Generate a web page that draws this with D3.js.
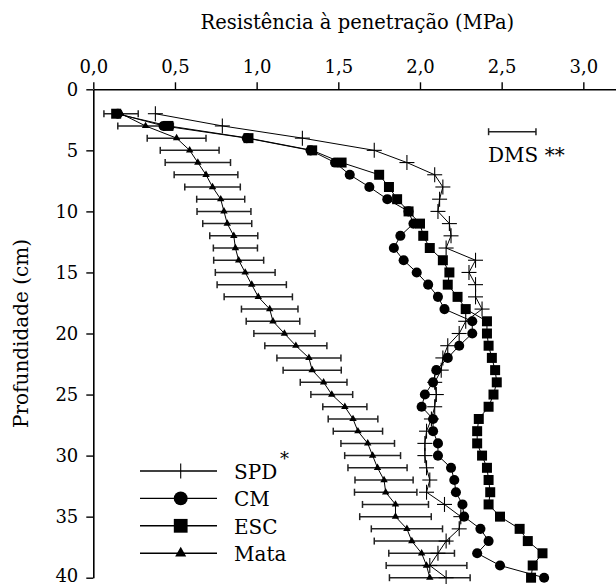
<!DOCTYPE html>
<html>
<head>
<meta charset="utf-8">
<script src="https://cdn.jsdelivr.net/npm/d3@7/dist/d3.min.js"></script>
<style>
    body { margin: 0; background: #fff; }
    text { font-family: 'DejaVu Serif', serif; fill: #000; }
</style>
</head>
<body>
<div id="chart"></div>
<script>
//Datos: profundidad (cm) y resistencia (MPa)
const depths = [2,3,4,5,6,7,8,9,10,11,12,13,14,15,16,17,18,19,20,21,22,23,24,25,26,27,28,29,30,31,32,33,34,35,36,37,38,39,40];
const spd  = [0.38,0.79,1.28,1.72,1.92,2.09,2.14,2.12,2.11,2.18,2.19,2.16,2.34,2.30,2.34,2.34,2.38,2.28,2.24,2.17,2.14,2.13,2.09,2.10,2.09,2.07,2.04,2.03,2.03,2.04,2.06,2.04,2.15,2.25,2.24,2.16,2.11,2.06,2.16];
const cm   = [0.15,0.43,0.94,1.33,1.48,1.57,1.69,1.80,1.93,1.96,1.88,1.84,1.90,1.98,2.05,2.11,2.15,2.32,2.32,2.24,2.17,2.10,2.08,2.03,2.01,2.08,2.08,2.11,2.11,2.19,2.21,2.22,2.26,2.27,2.37,2.42,2.35,2.49,2.76];
const esc  = [0.14,0.46,0.95,1.34,1.52,1.75,1.81,1.86,1.93,2.00,2.02,2.06,2.14,2.18,2.17,2.23,2.28,2.41,2.41,2.42,2.44,2.46,2.47,2.45,2.42,2.36,2.35,2.35,2.38,2.41,2.42,2.43,2.42,2.49,2.61,2.66,2.75,2.69,2.68];
const mata = [0.17,0.32,0.51,0.59,0.64,0.69,0.73,0.78,0.80,0.82,0.86,0.87,0.89,0.93,0.97,1.01,1.08,1.10,1.17,1.24,1.32,1.34,1.41,1.46,1.54,1.59,1.62,1.68,1.71,1.74,1.78,1.79,1.85,1.85,1.92,1.95,2.01,2.04,2.06];
const mataErr = [0.105,0.17,0.18,0.18,0.20,0.195,0.17,0.147,0.165,0.15,0.147,0.135,0.153,0.183,0.212,0.209,0.173,0.164,0.187,0.19,0.196,0.178,0.143,0.128,0.135,0.152,0.151,0.164,0.171,0.181,0.178,0.191,0.202,0.219,0.218,0.23,0.201,0.247,0.247];

const seriesNames = ['SPD', 'CM', 'ESC', 'Mata'];
const xTicks = [0, 0.5, 1.0, 1.5, 2.0, 2.5, 3.0];
const yTicks = [0, 5, 10, 15, 20, 25, 30, 35, 40];

//Diferencia mínima significativa
const dmsStart = 2.42;
const dmsValue = 0.29;

const xTitle = 'Resistência à penetração (MPa)';
const yTitle = 'Profundidade (cm)';

///valores de altura, anchura y márgenes
let margin = {top: 89.3, right: 0, bottom: 6.3, left: 93.3},
    width = 616 - margin.left - margin.right,
    height = 584 - margin.top - margin.bottom;

let svg = d3.select('#chart')
    .append('svg')
        .attr('width', 616)
        .attr('height', 584)
    .append('g')
        .attr('transform', 'translate(' + margin.left + ',' + margin.top + ')');

let x = d3.scaleLinear()
    .domain([0, 3.2])
    .range([0, width]);

let y = d3.scaleLinear()
    .domain([0, 40])
    .range([0, height]);

let fmt = function(d) { return d3.format('.1f')(d).replace('.', ','); };

//Ejes
let xAxis = svg.append('g')
    .call(d3.axisTop(x).tickValues(xTicks).tickFormat(fmt).tickSize(7).tickSizeOuter(0).tickPadding(9));

let yAxis = svg.append('g')
    .call(d3.axisLeft(y).tickValues(yTicks).tickSize(7).tickSizeOuter(0).tickPadding(8));

[xAxis, yAxis].forEach(function(g) {
    g.select('.domain').attr('stroke', '#000').attr('stroke-width', 1.6);
    g.selectAll('.tick line').attr('stroke', '#000').attr('stroke-width', 1.4);
    g.selectAll('.tick text').style('font-family', "'DejaVu Serif', serif").style('font-size', '18px').attr('fill', '#000');
});

//La etiqueta 40 queda pegada al borde inferior
yAxis.selectAll('.tick text').filter(function(d) { return d == 40; }).attr('dy', '0.2em');

//Títulos
svg.append('text')
    .attr('x', 264)
    .attr('y', 29 - margin.top)
    .attr('text-anchor', 'middle')
    .style('font-size', '19.5px')
    .text(xTitle);

svg.append('text')
    .attr('transform', 'translate(' + (28 - margin.left) + ',' + y(20) + ') rotate(-90)')
    .attr('text-anchor', 'middle')
    .style('font-size', '20px')
    .text(yTitle);

//Barras de error de Mata
let errG = svg.append('g')
    .attr('stroke', '#222')
    .attr('stroke-width', 1.5);

depths.forEach(function(d, i) {
    let x0 = x(mata[i] - mataErr[i]), x1 = x(mata[i] + mataErr[i]), yy = y(d);
    errG.append('line').attr('x1', x0).attr('x2', x1).attr('y1', yy).attr('y2', yy);
    errG.append('line').attr('x1', x0).attr('x2', x0).attr('y1', yy - 3.5).attr('y2', yy + 3.5);
    errG.append('line').attr('x1', x1).attr('x2', x1).attr('y1', yy - 3.5).attr('y2', yy + 3.5);
});

//Líneas
let line = d3.line()
    .x(function(d) { return x(d[0]); })
    .y(function(d) { return y(d[1]); });

let allSeries = [spd, cm, esc, mata];

allSeries.forEach(function(vals) {
    svg.append('path')
        .datum(vals.map(function(v, i) { return [v, depths[i]]; }))
        .attr('fill', 'none')
        .attr('stroke', '#000')
        .attr('stroke-width', 1)
        .attr('d', line);
});

//Marcadores
function drawMarker(g, type, cx, cy, big) {
    if (type == 'SPD') {
        let h = 7.5;
        g.append('line').attr('x1', cx - (big ? 0 : h)).attr('x2', cx + (big ? 0 : h)).attr('y1', cy).attr('y2', cy)
            .attr('stroke', '#000').attr('stroke-width', 1.1);
        g.append('line').attr('x1', cx).attr('x2', cx).attr('y1', cy - h).attr('y2', cy + h)
            .attr('stroke', '#000').attr('stroke-width', 1.1);
    } else {
        let sym = type == 'CM' ? d3.symbolCircle : (type == 'ESC' ? d3.symbolSquare : d3.symbolTriangle);
        let size = type == 'CM' ? 80 : (type == 'ESC' ? 100 : 24);
        if (big) size = size * (type == 'Mata' ? 2.2 : 1.9);
        g.append('path')
            .attr('d', d3.symbol().type(sym).size(size)())
            .attr('transform', 'translate(' + cx + ',' + cy + ')')
            .attr('fill', '#000');
    }
}

let markG = svg.append('g');
allSeries.forEach(function(vals, s) {
    vals.forEach(function(v, i) {
        drawMarker(markG, seriesNames[s], x(v), y(depths[i]), false);
    });
});

//Leyenda
let legend = svg.append('g')
    .attr('transform', 'translate(' + (140 - margin.left) + ',' + (471 - margin.top) + ')');

seriesNames.forEach(function(name, i) {
    let row = legend.append('g').attr('transform', 'translate(0,' + (i * 27.4) + ')');
    row.append('line')
        .attr('x1', 0).attr('x2', 77).attr('y1', 0).attr('y2', 0)
        .attr('stroke', '#000').attr('stroke-width', 1.4);
    drawMarker(row, name, 40.7, 0, true);
    row.append('text')
        .attr('x', 94)
        .attr('y', 8)
        .style('font-size', '20px')
        .text(name);
});

legend.append('text')
    .attr('x', 140)
    .attr('y', -6)
    .style('font-size', '18px')
    .text('*');

//DMS
let dmsG = svg.append('g')
    .attr('stroke', '#222')
    .attr('stroke-width', 1.5);
let dmsY = 131.7 - margin.top;
dmsG.append('line').attr('x1', x(dmsStart)).attr('x2', x(dmsStart + dmsValue)).attr('y1', dmsY).attr('y2', dmsY);
dmsG.append('line').attr('x1', x(dmsStart)).attr('x2', x(dmsStart)).attr('y1', dmsY - 3.5).attr('y2', dmsY + 3.5);
dmsG.append('line').attr('x1', x(dmsStart + dmsValue)).attr('x2', x(dmsStart + dmsValue)).attr('y1', dmsY - 3.5).attr('y2', dmsY + 3.5);

svg.append('text')
    .attr('x', x(dmsStart) - 0.5)
    .attr('y', 161.7 - margin.top)
    .style('font-size', '20px')
    .text('DMS **');
</script>
</body>
</html>
